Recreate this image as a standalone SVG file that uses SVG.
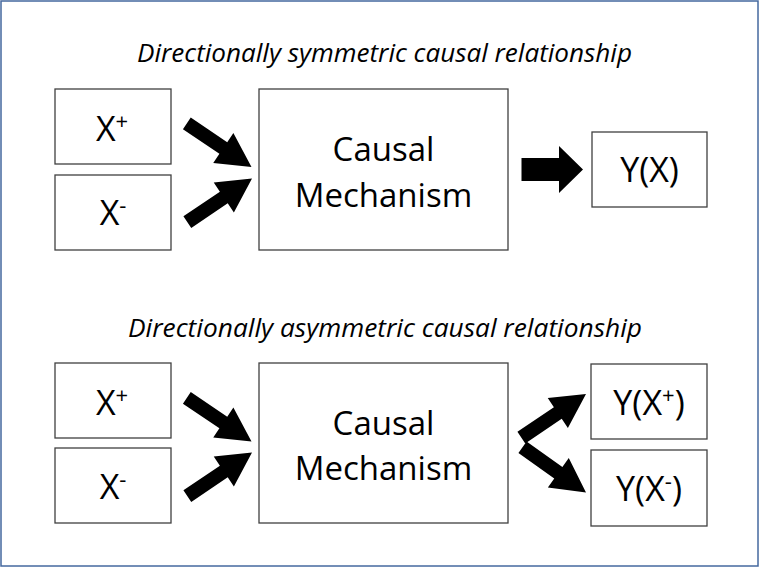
<svg xmlns="http://www.w3.org/2000/svg" xmlns:xlink="http://www.w3.org/1999/xlink" width="760" height="567" viewBox="0 0 760 567">
  <style>
    .box { fill: #ffffff; stroke: #404040; stroke-width: 1.3; }
    .lbl { font-family: "Open Sans", "Noto Sans", sans-serif; font-size: 34px; fill: #000; text-anchor: middle; }
    .big { font-family: "Open Sans", "Noto Sans", sans-serif; font-size: 33px; fill: #000; text-anchor: middle; }
    .sup { font-size: 22px; }
    .title { font-family: "Open Sans", "Noto Sans", sans-serif; font-style: italic; font-size: 25px; fill: #000; text-anchor: middle; }
    .arrow { fill: #000; stroke: none; }
  </style>
  <defs>
    <path id="diag" d="M -78,-7 L -34,-7 L -34,-18 L 0,0 L -34,18 L -34,7 L -78,7 Z"/>
  </defs>
  <rect x="0" y="0" width="760" height="567" fill="#ffffff"/>
  <rect x="1" y="1" width="757" height="565" fill="none" stroke="#44689f" stroke-width="1.5"/>

  <g id="titles">
    <text class="title" x="384.5" y="62" textLength="495" lengthAdjust="spacingAndGlyphs">Directionally symmetric causal relationship</text>
    <text class="title" x="385" y="337" textLength="514" lengthAdjust="spacingAndGlyphs">Directionally asymmetric causal relationship</text>
  </g>

  <!-- Top diagram -->
  <g id="top-xplus">
    <rect class="box" x="55" y="89" width="116" height="75"/>
    <text class="lbl" x="112" y="141">X<tspan class="sup" dy="-12">+</tspan></text>
  </g>
  <g id="top-xminus">
    <rect class="box" x="55" y="175" width="116" height="75"/>
    <text class="lbl" x="113" y="225">X<tspan class="sup" dy="-12">-</tspan></text>
  </g>
  <g id="top-mechanism">
    <rect class="box" x="259" y="89" width="249" height="161"/>
    <text class="big" x="383.5" y="161">Causal</text>
    <text class="big" x="383.5" y="207">Mechanism</text>
  </g>
  <g id="top-yx">
    <rect class="box" x="592" y="132" width="115" height="75"/>
    <text class="lbl" x="649.5" y="182">Y(X)</text>
  </g>

  <!-- Bottom diagram -->
  <g id="bot-xplus">
    <rect class="box" x="55" y="363" width="116" height="75"/>
    <text class="lbl" x="112" y="415">X<tspan class="sup" dy="-12">+</tspan></text>
  </g>
  <g id="bot-xminus">
    <rect class="box" x="55" y="448" width="116" height="75"/>
    <text class="lbl" x="113" y="499">X<tspan class="sup" dy="-12">-</tspan></text>
  </g>
  <g id="bot-mechanism">
    <rect class="box" x="259" y="363" width="249" height="160"/>
    <text class="big" x="383.5" y="435">Causal</text>
    <text class="big" x="383.5" y="480">Mechanism</text>
  </g>
  <g id="bot-yxplus">
    <rect class="box" x="591" y="364" width="116" height="75"/>
    <text class="lbl" x="649" y="414.5">Y(X<tspan class="sup" dy="-12">+</tspan><tspan dy="12">)</tspan></text>
  </g>
  <g id="bot-yxminus">
    <rect class="box" x="591" y="450" width="116" height="76"/>
    <text class="lbl" x="649" y="501">Y(X<tspan class="sup" dy="-12">-</tspan><tspan dy="12">)</tspan></text>
  </g>

  <g id="connectors">
    <use class="arrow" xlink:href="#diag" href="#diag" transform="translate(251.5,167) rotate(34)"/>
    <use class="arrow" xlink:href="#diag" href="#diag" transform="translate(252,178.5) rotate(-34)"/>
    <path class="arrow" d="M 521.5,158 H 559 V 146 L 583,169.5 L 559,193 V 181 H 521.5 Z"/>
    <use class="arrow" xlink:href="#diag" href="#diag" transform="translate(251.5,441.5) rotate(34)"/>
    <use class="arrow" xlink:href="#diag" href="#diag" transform="translate(252,452.5) rotate(-34)"/>
    <use class="arrow" xlink:href="#diag" href="#diag" transform="translate(586,394) rotate(-34)"/>
    <use class="arrow" xlink:href="#diag" href="#diag" transform="translate(586,492.5) rotate(35.5)"/>
  </g>
</svg>
